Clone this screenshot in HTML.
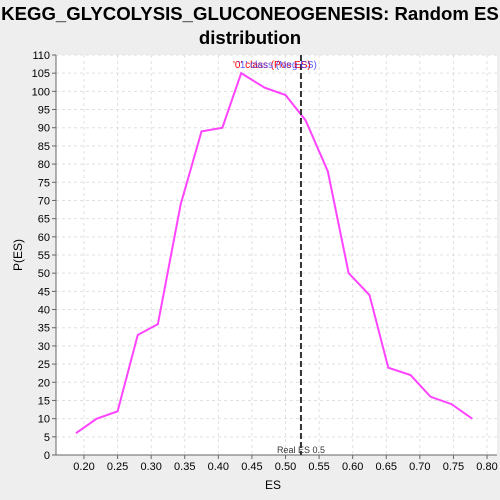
<!DOCTYPE html>
<html><head><meta charset="utf-8"><style>
body{margin:0;background:#eeeeee;width:500px;height:500px;overflow:hidden;font-family:"Liberation Sans",sans-serif}
</style></head><body>
<svg id="chart" width="500" height="500" style="position:absolute;left:0;top:0">
<text x="250" y="20" text-anchor="middle" font-size="18.6" font-weight="bold" fill="#000">KEGG_GLYCOLYSIS_GLUCONEOGENESIS: Random ES</text>
<text x="250" y="44" text-anchor="middle" font-size="18.6" font-weight="bold" fill="#000">distribution</text>
<rect x="56" y="55" width="441" height="400" fill="#fff"/>
<g id="grid"></g><g id="axes"></g><g id="series"></g>
<text x="273" y="489" text-anchor="middle" font-size="12">ES</text>
<text x="0" y="0" transform="translate(22,255) rotate(-90)" text-anchor="middle" font-size="12">P(ES)</text>
<text x="233" y="68" font-size="10" fill="#ff0000">'0' class (Pos ES)</text>
<text x="238" y="68" font-size="10" fill="#3333ff" opacity="0.8">'1' class (Neg ES)</text>
</svg>
<script>
const xValues=[0.188,0.219,0.25,0.28,0.31,0.344,0.375,0.406,0.434,0.469,0.5,0.53,0.563,0.594,0.625,0.653,0.686,0.716,0.747,0.778];
const yValues=[6,10,12,33,36,69,89,90,105,101,99,92,78,50,44,24,22,16,14,10];
const xTicks=[0.2,0.25,0.3,0.35,0.4,0.45,0.5,0.55,0.6,0.65,0.7,0.75,0.8];
const yTicks=[0,5,10,15,20,25,30,35,40,45,50,55,60,65,70,75,80,85,90,95,100,105,110];
const realES=[0.523];
const NS='http://www.w3.org/2000/svg';
const X=v=>84+(v-0.2)*671.7;
const Y=v=>455-v*400/110;
function mk(t,a,p){const e=document.createElementNS(NS,t);for(const k in a)e.setAttribute(k,a[k]);p.appendChild(e);return e;}
const g=document.getElementById('grid'),ax=document.getElementById('axes'),s=document.getElementById('series');
yTicks.forEach(t=>{
 const l=mk('line',{x1:56,x2:497,y1:Y(t),y2:Y(t),stroke:'#e0e0e0','stroke-dasharray':'3,3'},g);
 
 
 mk('line',{x1:52,x2:56,y1:Y(t),y2:Y(t),stroke:'#666'},ax);
 const tx=mk('text',{x:50,y:Y(t)+4,'text-anchor':'end','font-size':11},ax);tx.textContent=t;
 
 
});
xTicks.forEach(t=>{
 const l=mk('line',{x1:X(t),x2:X(t),y1:55,y2:455,stroke:'#e0e0e0','stroke-dasharray':'3,3'},g);
 
 
 mk('line',{x1:X(t),x2:X(t),y1:455,y2:459,stroke:'#666'},ax);
 const tx=mk('text',{x:X(t),y:470,'text-anchor':'middle','font-size':11},ax);tx.textContent=t.toFixed(2);
 
 
});
mk('line',{x1:56,x2:56,y1:55,y2:455,stroke:'#666'},ax);
mk('line',{x1:56,x2:497,y1:455,y2:455,stroke:'#666'},ax);
const pl=mk('polyline',{points:xValues.map((v,i)=>X(v)+','+Y(yValues[i])).join(' '),fill:'none',stroke:'#ff44ff','stroke-width':2},s);


const rl=mk('line',{x1:X(realES[0]),x2:X(realES[0]),y1:55,y2:455,stroke:'#333','stroke-width':2,'stroke-dasharray':'6,3'},s);


const rt=mk('text',{x:X(realES[0]),y:453,'text-anchor':'middle','font-size':9,fill:'#333'},s);rt.textContent='Real ES 0.5';


</script>
</body></html>
